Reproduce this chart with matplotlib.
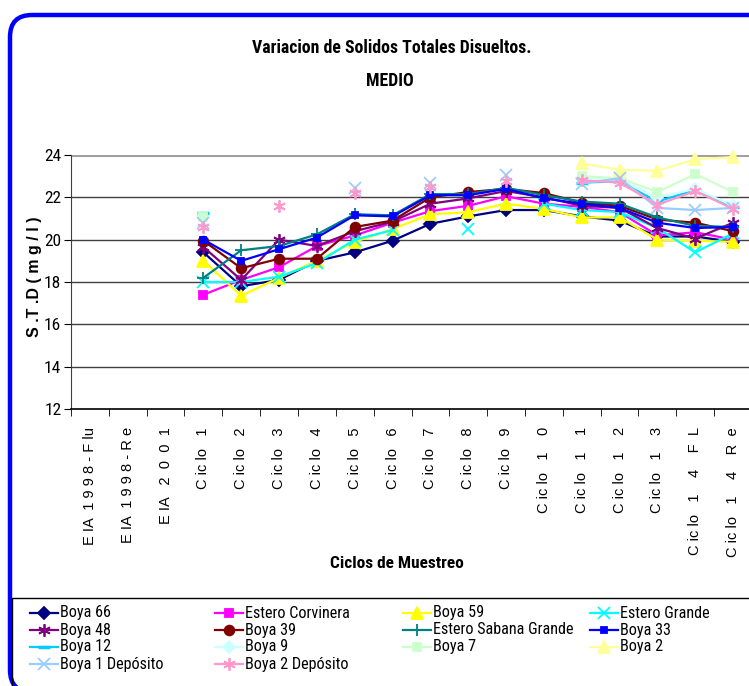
import matplotlib
matplotlib.use("Agg")
import matplotlib.pyplot as plt
import numpy as np
from matplotlib import font_manager as fm
from matplotlib.lines import Line2D
from matplotlib.patches import FancyBboxPatch, Rectangle
from matplotlib.transforms import IdentityTransform

nan = np.nan

categories = [
    "E IA  1 9 9 8 - F lu", "E IA  1 9 9 8 - R e", "E IA   2  0  0  1",
    "C ic lo   1", "C ic lo   2", "C ic lo   3", "C ic lo   4",
    "C ic lo   5", "C ic lo   6", "C ic lo   7", "C ic lo   8",
    "C ic lo   9", "C ic lo   1    0", "C ic lo   1    1",
    "C ic lo   1    2", "C ic lo   1    3", "C ic lo   1    4    F  L",
    "C ic lo   1    4    R  e",
]

pre = [nan, nan, nan]
boya_66 = pre + [19.4, 17.8, 18.1, 19.0, 19.4, 19.95, 20.75, 21.1, 21.4, 21.4, 21.1, 20.9, 20.15, 20.15, 19.9]
estero_corvinera = pre + [17.4, 18.1, 18.7, 19.7, 20.2, 20.8, 21.35, 21.6, 22.05, 21.7, 21.55, 21.3, 20.2, 20.35, 20.0]
boya_59 = pre + [19.0, 17.35, 18.2, 19.0, 19.9, 20.5, 21.2, 21.3, 21.7, 21.45, 21.05, 21.05, 20.0, 19.95, 19.9]
estero_grande = pre + [18.0, 18.0, 18.25, 18.9, 20.0, 20.45, nan, 20.5, nan, 21.7, 21.4, 21.3, 20.55, 19.4, 20.3]
boya_48 = pre + [19.65, 18.1, 20.0, 19.7, 20.4, 20.85, 21.7, 21.95, 22.3, 22.0, 21.6, 21.5, 20.55, 20.05, 20.8]
boya_39 = pre + [19.95, 18.65, 19.1, 19.1, 20.6, 20.9, 22.0, 22.25, 22.4, 22.2, 21.75, 21.6, 20.95, 20.8, 20.4]
estero_sabana = pre + [18.2, 19.5, 19.7, 20.25, 21.2, 21.15, 22.15, 22.15, 22.45, 22.1, 21.8, 21.7, 21.05, 20.65, 20.6]
boya_33 = pre + [20.0, 19.0, 19.55, 20.1, 21.15, 21.1, 22.1, 22.1, 22.4, 21.95, 21.7, 21.5, 20.8, 20.55, 20.6]
boya_12 = pre + [21.25, nan, nan, nan, nan, nan, nan, nan, nan, nan, 22.7, 22.75, 21.8, 22.35, 21.55]
boya_9 = pre + [nan, nan, nan, nan, nan, nan, nan, nan, nan, nan, 22.9, 22.85, 22.0, 22.4, 21.6]
boya_7 = pre + [21.05, nan, nan, nan, nan, nan, nan, nan, nan, nan, 23.0, 22.9, 22.25, 23.1, 22.25]
boya_2 = pre + [nan, nan, nan, nan, nan, nan, nan, nan, nan, nan, 23.6, 23.3, 23.25, 23.8, 23.9]
boya_1_dep = pre + [20.8, nan, nan, nan, 22.45, nan, 22.7, nan, 23.05, nan, 22.65, 22.9, 21.5, 21.4, 21.5]
boya_2_dep = pre + [20.6, nan, 21.6, nan, 22.2, nan, 22.5, nan, 22.75, nan, 22.8, 22.7, 21.65, 22.3, 21.45]

series = [
    ("Boya 66", boya_66, "#000080", "D", 6),
    ("Estero Corvinera", estero_corvinera, "#FF00FF", "s", 6),
    ("Boya 59", boya_59, "#FFFF00", "^", 8),
    ("Estero Grande", estero_grande, "#00FFFF", "x", 8),
    ("Boya 48", boya_48, "#800080", (6, 2, 0), 9),
    ("Boya 39", boya_39, "#800000", "o", 7),
    ("Estero Sabana Grande", estero_sabana, "#008080", "+", 9),
    ("Boya 33", boya_33, "#0000FF", "s", 4),
    ("Boya 12", boya_12, "#00CCFF", "_", 8),
    ("Boya 9", boya_9, "#CCFFFF", "D", 6),
    ("Boya 7", boya_7, "#CCFFCC", "s", 6),
    ("Boya 2", boya_2, "#FFFF99", "^", 8),
    ("Boya 1 Depósito", boya_1_dep, "#99CCFF", "x", 8),
    ("Boya 2 Depósito", boya_2_dep, "#FF99CC", (6, 2, 0), 9),
]

# the original uses a narrow font; use one if installed, else plain Liberation Sans a bit smaller
names = {f.name for f in fm.fontManager.ttflist}
narrow = None
for cand in ["Liberation Sans Narrow", "Arial Narrow", "Roboto Condensed", "Open Sans Condensed"]:
    if cand in names:
        narrow = dict(family=[cand, "DejaVu Sans"])
        shrink = 1.0
        break
if narrow is None:
    narrow = dict(family=["Liberation Sans", "DejaVu Sans"])
    shrink = 0.82
regular = dict(family=["Liberation Sans", "DejaVu Sans"])

W, H = 749, 686
fig = plt.figure(figsize=(W / 100, H / 100), dpi=100)

# outer rounded blue border and legend frame, in pixels
fig.patches.append(FancyBboxPatch(
    (10, -6), 820, H - 15 + 6, boxstyle="round,pad=0,rounding_size=22",
    transform=IdentityTransform(), facecolor="none", edgecolor="#0000FF",
    linewidth=3.2, figure=fig))
fig.patches.append(Rectangle(
    (12, -20), 820, H - 598 + 20, transform=IdentityTransform(),
    facecolor="none", edgecolor="black", linewidth=1.0, figure=fig))

ax = fig.add_axes([71 / W, (H - 409) / H, 681 / W, 254 / H])
x = np.arange(len(categories))
for name, vals, color, marker, ms in series:
    lw_m = 2.5 if marker == "_" else 1.3
    ax.plot(x, vals, color=color, lw=1.6, marker=marker, ms=ms,
            mfc=color, mec=color, mew=lw_m, label=name, clip_on=False, zorder=3)

yticks = np.arange(12, 25, 2)
ax.set_xlim(-0.5, len(categories) - 0.5)
ax.set_ylim(12, 24)
ax.set_yticks(yticks)
for yv in yticks[1:-1]:
    ax.axhline(yv, color="#404040", lw=1.0, zorder=1)
ax.axhline(yticks[-1], color="#A0A0A0", lw=2.2, zorder=1)
for s in ["top", "right"]:
    ax.spines[s].set_visible(False)
ax.spines["left"].set_color("#404040")
ax.spines["bottom"].set_color("black")
ax.spines["bottom"].set_linewidth(1.2)

ax.set_xticks(x)
ax.set_xticklabels(categories, rotation=90, fontsize=10.5, va="top", **regular)
ax.set_xticks(np.arange(-0.5, len(categories)), minor=True)
ax.tick_params(axis="x", which="major", length=0, pad=13)
ax.tick_params(axis="x", which="minor", length=5, direction="out")
ax.tick_params(axis="y", length=5, direction="out", pad=2)
for lab in ax.get_yticklabels():
    lab.set_family(narrow["family"])
    lab.set_fontsize(12.5 * shrink)

fig.text(35 / W, 1 - 277 / H, "S .T .D ( m g / l )", rotation=90, ha="center",
         va="center", fontsize=11.5, fontweight="bold", **regular)
fig.text(397 / W, 1 - 563 / H, "Ciclos de Muestreo", ha="center", va="center",
         fontsize=12.5 * shrink, fontweight="bold", **narrow)
fig.text(392 / W, 1 - 48 / H, "Variacion de Solidos Totales Disueltos.",
         ha="center", va="center", fontsize=12.8 * shrink, fontweight="bold", **narrow)
fig.text(390 / W, 1 - 81 / H, "MEDIO", ha="center", va="center",
         fontsize=12.8 * shrink, fontweight="bold", **narrow)

# legend, filled row by row like the original
col_x = [30, 215, 403, 590]
row_y = [613, 630, 647, 664]
for i, (name, vals, color, marker, ms) in enumerate(series):
    cx, cy = col_x[i % 4], row_y[i // 4]
    lw_m = 2.5 if marker == "_" else 1.3
    fig.add_artist(Line2D([cx / W, (cx + 28) / W], [1 - cy / H, 1 - cy / H],
                          color=color, lw=1.6, transform=fig.transFigure))
    fig.add_artist(Line2D([(cx + 14) / W], [1 - cy / H], color=color,
                          marker=marker, ms=ms, mfc=color, mec=color, mew=lw_m,
                          transform=fig.transFigure))
    fig.text((cx + 30) / W, 1 - cy / H, name, ha="left", va="center",
             fontsize=11.6 * shrink, **narrow)

fig.savefig("out.png", dpi=100)
